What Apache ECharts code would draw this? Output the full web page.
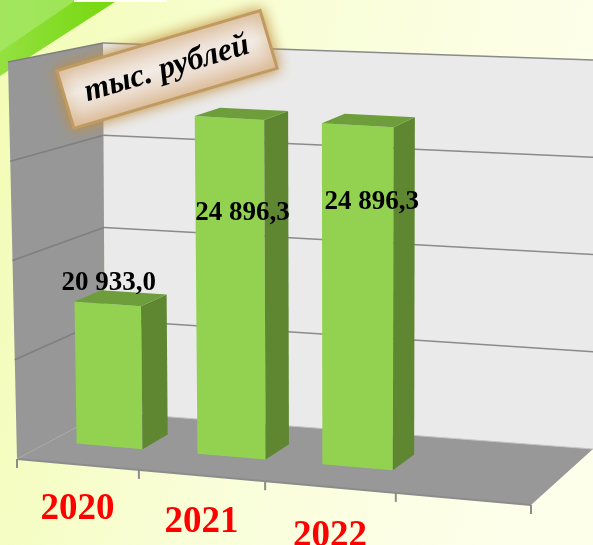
<!DOCTYPE html>
<html><head><meta charset="utf-8">
<style>html,body{margin:0;padding:0;background:#fbfedc}#c{width:593px;height:545px}</style>
<script src="https://cdn.jsdelivr.net/npm/echarts@6/dist/echarts.min.js"></script>
</head><body><div id="c"></div>
<script>
// ---- data ----
var categories = ['2020', '2021', '2022', ''];
var values = [20933.0, 24896.3, 24896.3];
var axisTicks = [18000, 20000, 22000, 24000, 26000];
var unitLabel = 'тыс. рублей';

// ---- 3D box as seen on the picture (layout, not data) ----
var floorQuad = [[17, 459], [531, 505], [593, 449], [105, 412]]; // front-left, front-right, back-right, back-left
var cornerRise = [397, 410, 389, 369];   // full wall height at those corners
var cornerLean = [-9, 5, 2, -2];         // horizontal lean of the wall top at those corners
var uSkew = 0.054;                       // evens out the band widths along the axis
var barRatio = 0.55, barD0 = 0.36, barD1 = 0.66;
var labelOffsets = [[1, -21], [13, 95], [14, 77]];
var catLabelDrops = [45, 47, 49];

function homography(q) {
  var x0 = q[0][0], y0 = q[0][1], x1 = q[1][0], y1 = q[1][1], x2 = q[2][0], y2 = q[2][1], x3 = q[3][0], y3 = q[3][1];
  var dx1 = x1 - x2, dx2 = x3 - x2, sx = x0 - x1 + x2 - x3, dy1 = y1 - y2, dy2 = y3 - y2, sy = y0 - y1 + y2 - y3;
  var den = dx1 * dy2 - dx2 * dy1, g = (sx * dy2 - dx2 * sy) / den, h = (dx1 * sy - sx * dy1) / den;
  var a = x1 - x0 + g * x1, b = x3 - x0 + h * x3, d = y1 - y0 + g * y1, e = y3 - y0 + h * y3;
  return function (u, v) { var w = g * u + h * v + 1; return [(a * u + b * v + x0) / w, (d * u + e * v + y0) / w]; };
}
var floorMap = homography(floorQuad);
function bilinear(c, u, d) { return (c[0] * (1 - u) + c[1] * u) * (1 - d) + (c[3] * (1 - u) + c[2] * u) * d; }
function project(u0, depth, h) {
  var u = u0 + uSkew * u0 * (1 - u0);
  var a = floorMap(u, depth);
  return [a[0] + bilinear(cornerLean, u, depth) * h, a[1] - bilinear(cornerRise, u, depth) * h];
}
function poly(pts, fill, z) { return { type: 'polygon', z2: z || 0, shape: { points: pts }, style: { fill: fill } }; }
function line(a, b, color, w) { return { type: 'line', shape: { x1: a[0], y1: a[1], x2: b[0], y2: b[1] }, style: { stroke: color, lineWidth: w }, z2: 2 }; }

function renderBox(params, api) {
  var cs = params.coordSys, kids = [];
  var hOf = function (t) { return (cs.y + cs.height - api.coord([0, t])[1]) / cs.height; };
  kids.push(poly([project(0, 1, 0), project(1, 1, 0), project(1, 1, 1), project(0, 1, 1)], '#eaeaea'));
  kids.push(poly([project(0, 0, 0), project(0, 1, 0), project(0, 1, 1), project(0, 0, 1)], '#979797'));
  kids.push(poly([project(0, 0, 0), project(1, 0, 0), project(1, 1, 0), project(0, 1, 0)], '#989898'));
  axisTicks.forEach(function (t) {
    var h = hOf(t);
    if (h > 0) {
      kids.push(line(project(0, 0, h), project(0, 1, h), '#7f7f7f', 1.5));
      kids.push(line(project(0, 1, h), project(1, 1, h), '#8a8a8a', 1.5));
    }
  });
  kids.push(line(project(0, 0, 0), project(1, 0, 0), '#8c8c8c', 2));
  kids.push(line(project(0, 0, 0), project(0, 1, 0), '#a8a8a8', 1));
  kids.push(line(project(0, 1, 0), project(1, 1, 0), '#c4c4c4', 1));
  categories.forEach(function (c, i) {
    var bx = api.coord([i, 18000])[0] - api.size([1, 0])[0] / 2;
    var u = (bx - cs.x) / cs.width, p = project(u, 0, 0);
    kids.push(line(p, [p[0], p[1] + 9], '#8c8c8c', 2));
  });
  var e = project(1, 0, 0);
  kids.push(line(e, [e[0], e[1] + 9], '#8c8c8c', 2));
  categories.forEach(function (c, i) {
    if (!c) return;
    var cx = api.coord([i, 18000])[0], p = project((cx - cs.x) / cs.width, 0, 0);
    kids.push({
      type: 'text', z2: 5,
      style: { text: c, x: p[0], y: p[1] + catLabelDrops[i], fill: '#ff0000', align: 'center', verticalAlign: 'middle',
        font: 'bold 37px "Liberation Serif", serif' }
    });
  });
  return { type: 'group', children: kids };
}

function renderBar(params, api) {
  var cs = params.coordSys, i = api.value(0), v = api.value(1);
  var top = api.coord([i, v]), base = api.coord([i, 18000]), band = api.size([1, 0])[0];
  var u0 = (top[0] - band * barRatio / 2 - cs.x) / cs.width, u1 = (top[0] + band * barRatio / 2 - cs.x) / cs.width;
  var h = (base[1] - top[1]) / cs.height;
  var a = project(u0, barD0, 0), b = project(u1, barD0, 0), c = project(u1, barD1, 0);
  var at = project(u0, barD0, h), bt = project(u1, barD0, h), ct = project(u1, barD1, h), dt = project(u0, barD1, h);
  var off = labelOffsets[params.dataIndex];
  var s = v.toFixed(1).replace('.', ',').replace(/\B(?=(\d{3})(?!\d))/g, ' ');
  return {
    type: 'group', children: [
      poly([a, b, bt, at], '#92d250'),
      poly([b, c, ct, bt], '#5f8631'),
      poly([at, bt, ct, dt], '#6d9e3b'),
      { type: 'text', z2: 5, style: { text: s, x: (at[0] + bt[0]) / 2 + off[0], y: (at[1] + bt[1]) / 2 + off[1],
          fill: '#000', align: 'center', verticalAlign: 'middle', font: 'bold 27px "Liberation Serif", serif' } }
    ]
  };
}

var chart = echarts.init(document.getElementById('c'), null, { renderer: 'canvas' });
chart.setOption({
  animation: false,
  backgroundColor: { type: 'linear', x: 0, y: 0, x2: 1, y2: 0.25, colorStops: [{ offset: 0, color: '#f2fcb4' }, { offset: 0.5, color: '#f9fed8' }, { offset: 1, color: '#fdffea' }] },
  grid: { left: 17, right: 62, top: 60, bottom: 86 },
  xAxis: { type: 'category', data: categories, show: false },
  yAxis: { type: 'value', min: 18000, max: 26000, interval: 2000, show: false },
  graphic: [
    { type: 'polygon', z: 0, shape: { points: [[0, 0], [118, 0], [0, 76]] },
      style: { fill: { type: 'linear', x: 0, y: 0, x2: 1, y2: 0, colorStops: [{ offset: 0, color: '#94e040' }, { offset: 1, color: '#74d80c' }] } } },
    { type: 'polygon', z: 0, shape: { points: [[0, 0], [76, 0], [0, 52]] }, style: { fill: '#a8e86a', opacity: 0.75 } },
    { type: 'rect', z: 0, shape: { x: 74, y: 0, width: 93, height: 2 }, style: { fill: '#fffff4' } },
    { type: 'rect', z: 100, x: 167, y: 69.5, rotation: 16.5 * Math.PI / 180,
      shape: { x: -106, y: -30, width: 212, height: 60 },
      style: { stroke: '#c19a62', lineWidth: 3, shadowBlur: 14, shadowColor: '#c09040',
        fill: { type: 'linear', x: 0, y: 0, x2: 0, y2: 1, colorStops: [{ offset: 0, color: '#e4cdb8' }, { offset: 0.45, color: '#f2ece6' }, { offset: 1, color: '#e2c6ac' }] } } },
    { type: 'text', z: 101, x: 167, y: 69, rotation: 16.5 * Math.PI / 180,
      style: { text: unitLabel, x: 0, y: 0, align: 'center', verticalAlign: 'middle', fill: '#000', font: 'italic bold 32px "Liberation Serif", serif' } }
  ],
  series: [
    { type: 'custom', coordinateSystem: 'cartesian2d', z: 2, silent: true, data: [[0, 18000]], encode: { x: 0, y: 1 }, renderItem: renderBox },
    { type: 'custom', coordinateSystem: 'cartesian2d', z: 3, silent: true, data: values.map(function (v, i) { return [i, v]; }), encode: { x: 0, y: 1 }, renderItem: renderBar }
  ]
});
</script></body></html>
